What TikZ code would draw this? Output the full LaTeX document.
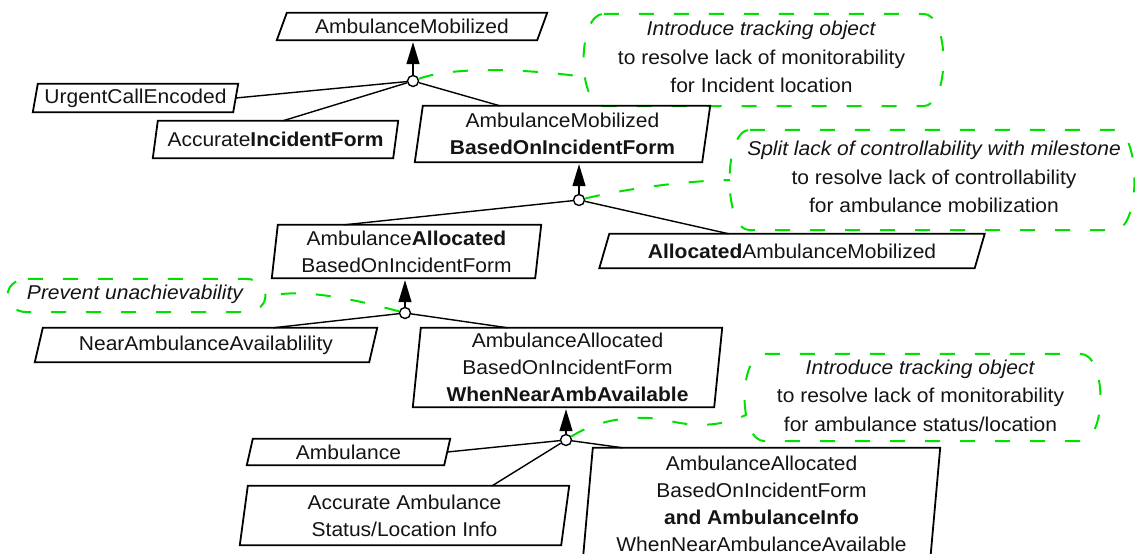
\documentclass[tikz,border=0pt]{standalone}
\usepackage{fontspec}
\setmainfont{Liberation Sans}[FakeStretch=1.05]
\usetikzlibrary{arrows.meta,calc}
\definecolor{cgreen}{RGB}{0,225,0}
\definecolor{ink}{RGB}{20,20,20}
\begin{document}
\begin{tikzpicture}[x=1pt,y=-1pt,
  box/.style={inner sep=0pt, align=center, text=ink, font=\fontsize{20}{27}\selectfont},
  cloudframe/.style={inner sep=0pt},
  cloudtext/.style={inner sep=0pt, align=center, text=ink, font=\fontsize{20}{28.5}\selectfont},
  boxline/.style={line width=1.8pt, line join=miter},
  cloudline/.style={draw=cgreen, line width=2pt, dash pattern=on 15pt off 20pt},
  greenline/.style={draw=cgreen, line width=2pt, dash pattern=on 15pt off 20pt},
  link/.style={line width=1.4pt},
  refine/.style={line width=1.4pt, -{Triangle[length=22pt,width=13pt,sep=2pt]}},
  refc/.style={circle, draw, fill=white, inner sep=0pt, minimum size=11pt, line width=1.4pt}]
\useasboundingbox (0,0) rectangle (1135,554);

% goal nodes (text areas = bounding boxes of parallelograms)
\node[box, minimum width=270, minimum height=27] (g1) at (412,26.5) {AmbulanceMobilized};
\node[box, minimum width=205, minimum height=28] (g2) at (135.5,98) {UrgentCallEncoded};
\node[box, minimum width=245, minimum height=37] (g3) at (275.5,139.5) {Accurate\textbf{IncidentForm}};
\node[box, minimum width=295, minimum height=56] (g4) at (562.5,134) {AmbulanceMobilized\\\textbf{BasedOnIncidentForm}};
\node[box, minimum width=269, minimum height=53] (g5) at (406.5,251.5) {Ambulance\textbf{Allocated}\\BasedOnIncidentForm};
\node[box, minimum width=385, minimum height=34] (g6) at (792,251) {\textbf{Allocated}AmbulanceMobilized};
\node[box, minimum width=342, minimum height=34] (g7) at (206,345) {NearAmbulanceAvailablility};
\node[box, minimum width=309, minimum height=79] (g8) at (567.5,367.5) {AmbulanceAllocated\\BasedOnIncidentForm\\\textbf{WhenNearAmbAvailable}};
\node[box, minimum width=203, minimum height=26] (g9) at (348.5,452) {Ambulance};
\node[box, minimum width=329, minimum height=59] (g10) at (404.5,515.5) {Accurate Ambulance\\Status/Location Info};
\node[box, minimum width=357, minimum height=112] (g11) at (761.5,504) {AmbulanceAllocated\\BasedOnIncidentForm\\\textbf{and AmbulanceInfo}\\WhenNearAmbulanceAvailable};

% annotation clouds (frames and their texts)
\node[cloudframe, minimum width=359, minimum height=92] (k1) at (763.5,60) {};
\node[cloudframe, minimum width=404, minimum height=100] (k2) at (932,180) {};
\node[cloudframe, minimum width=257, minimum height=33] (k3) at (136.5,295.5) {};
\node[cloudframe, minimum width=355, minimum height=87] (k4) at (922.5,397.5) {};
\node[cloudtext] (t1) at ($(k1.center)+(-2,-3)$) {\textit{Introduce tracking object}\\to resolve lack of monitorability\\for Incident location};
\node[cloudtext] (t2) at ($(k2.center)+(2,-3)$) {\textit{Split lack of controllability with milestone}\\to resolve lack of controllability\\for ambulance mobilization};
\node[cloudtext] (t3) at ($(k3.center)+(-1,-1)$) {\textit{Prevent unachievability}};
\node[cloudtext] (t4) at ($(k4.center)+(-2,-2)$) {\textit{Introduce tracking object}\\to resolve lack of monitorability\\for ambulance status/location};

\foreach \n in {k1,k2,k3,k4}
  \draw[cloudline] ($(\n.north west)+(20,0)$) -- ($(\n.north east)+(-20,0)$)
    .. controls ($(\n.north east)+(7,0)$) and ($(\n.south east)+(7,0)$) .. ($(\n.south east)+(-20,0)$)
    -- ($(\n.south west)+(20,0)$)
    .. controls ($(\n.south west)+(-7,0)$) and ($(\n.north west)+(-7,0)$) .. cycle;

% refinement nodes
\node[refc] (c1) at (413,81) {};
\node[refc] (c2) at (579,200) {};
\node[refc] (c3) at (405,313) {};
\node[refc] (c4) at (566,440) {};

% green annotation connectors
\draw[greenline] (c1) .. controls (450,67) and (520,68) .. ($(k1.west)+(1,17)$);
\draw[greenline] (c2) .. controls (620,190) and (680,181) .. (k2.west);
\draw[greenline] (c3) .. controls (350,298) and (300,288) .. ($(k3.east)+(2,1)$);
\draw[greenline] (c4) .. controls (600,418) and (640,414) .. (670,421) .. controls (700,428) and (725,425) .. ($(k4.west)+(2,17)$);

% links
\draw[link] (c1) -- ($(g2.east)+(-2.5,0)$);
\draw[link] (c1) -- ($(g3.north west)!0.53!(g3.north east)$);
\draw[link] (c1) -- ($(g4.north west)!0.288!(g4.north east)$);
\draw[link] (c2) -- ($(g5.north west)!0.27!(g5.north east)$);
\draw[link] (c2) -- ($(g6.north west)!0.336!(g6.north east)$);
\draw[link] (c3) -- ($(g7.north west)!0.696!(g7.north east)$);
\draw[link] (c3) -- ($(g8.north west)!0.307!(g8.north east)$);
\draw[link] (c4) -- ($(g9.east)+(-3,0)$);
\draw[link] (c4) -- ($(g10.north west)!0.766!(g10.north east)$);
\draw[link] (c4) -- ($(g11.north west)!0.112!(g11.north east)$);

% refinement arrows
\draw[refine] (c1) -- (c1 |- g1.south);
\draw[refine] (c2) -- (c2 |- g4.south);
\draw[refine] (c3) -- (c3 |- g5.south);
\draw[refine] (c4) -- (c4 |- g8.south);

% goal parallelograms
\foreach \n/\s in {g1/10,g2/5,g3/5,g4/8,g5/6,g6/10,g7/8,g8/8,g9/6,g10/8,g11/10}
  \draw[boxline] ($(\n.north west)+(\s,0)$) -- (\n.north east) -- ($(\n.south east)+(-\s,0)$) -- (\n.south west) -- cycle;
\end{tikzpicture}
\end{document}
